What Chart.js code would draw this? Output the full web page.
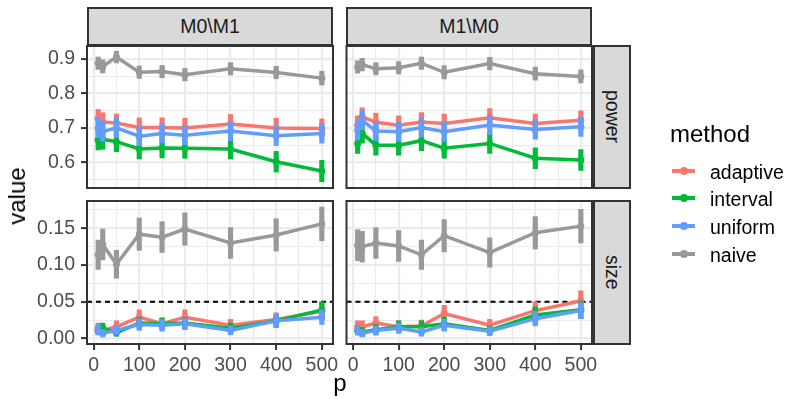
<!DOCTYPE html>
<html>
<head>
<meta charset="utf-8">
<script src="https://cdn.jsdelivr.net/npm/chart.js@4.4.1/dist/chart.umd.min.js"></script>
<style>
  body { margin: 0; background: #fff; font-family: "Liberation Sans", Arial, sans-serif; }
  #wrap { position: relative; width: 790px; height: 399px; overflow: hidden; }
  #wrap canvas { position: absolute; left: 0; top: 0; }
  .strip { position: absolute; box-sizing: border-box; background: #d9d9d9; border: 2px solid #333;
           display: flex; align-items: center; justify-content: center; color: #1a1a1a; font-size: 19.5px; line-height: 1; }
  .strip.side span { writing-mode: vertical-rl; }
  .title { position: absolute; font-size: 24px; color: #000; line-height: 1; white-space: nowrap; }
  .key { position: absolute; left: 672px; width: 23px; height: 4px; }
  .key i { position: absolute; left: 7.5px; top: -2px; width: 8px; height: 8px; border-radius: 50%; background: inherit; }
  .lab { position: absolute; left: 710px; font-size: 19.5px; line-height: 1; color: #000; }
</style>
</head>
<body>
<div id="wrap">
  <canvas id="tl" width="790" height="399"></canvas>
  <canvas id="tr" width="790" height="399"></canvas>
  <canvas id="bl" width="790" height="399"></canvas>
  <canvas id="br" width="790" height="399"></canvas>

  <div class="strip" style="left:87px;top:7px;width:246px;height:39px">M0\M1</div>
  <div class="strip" style="left:346px;top:7px;width:246px;height:39px">M1\M0</div>
  <div class="strip side" style="left:593px;top:45px;width:38px;height:144px"><span>power</span></div>
  <div class="strip side" style="left:593px;top:200px;width:38px;height:145px"><span>size</span></div>

  <div class="title" style="left:17px;top:196px;transform:translate(-50%,-50%) rotate(-90deg)">value</div>
  <div class="title" style="left:340px;top:371px;transform:translateX(-50%)">p</div>
  <div class="title" style="left:670px;top:122px">method</div>
  <div id="legend"></div>
</div>

<script>
// x values and tick labels
const p = [10, 20, 50, 100, 150, 200, 300, 400, 500];
const methods = ['adaptive', 'interval', 'uniform', 'naive'];
const xTicks = [0, 50, 100, 150, 200, 250, 300, 350, 400, 450, 500];
const xMajor = [0, 100, 200, 300, 400, 500];
const powerTicks = [0.55, 0.6, 0.65, 0.7, 0.75, 0.8, 0.85, 0.9];
const powerMajor = [0.6, 0.7, 0.8, 0.9];
const sizeTicks = [0, 0.025, 0.05, 0.075, 0.1, 0.125, 0.15, 0.175];
const sizeMajor = [0, 0.05, 0.1, 0.15];
const sizeRef = 0.05;

// power, M0\M1
const pow1Adaptive = [0.727, 0.717, 0.714, 0.701, 0.701, 0.700, 0.711, 0.700, 0.698];
const pow1Interval = [0.665, 0.667, 0.660, 0.639, 0.642, 0.641, 0.639, 0.602, 0.575];
const pow1Uniform  = [0.700, 0.689, 0.700, 0.676, 0.684, 0.679, 0.691, 0.677, 0.684];
const pow1Naive    = [0.887, 0.878, 0.905, 0.861, 0.863, 0.854, 0.871, 0.860, 0.844];
const pow1AdaptiveErr = [0.026, 0.027, 0.026, 0.028, 0.028, 0.028, 0.028, 0.028, 0.028];
const pow1IntervalErr = [0.029, 0.029, 0.029, 0.029, 0.029, 0.029, 0.029, 0.030, 0.031];
const pow1UniformErr  = [0.028, 0.028, 0.028, 0.028, 0.028, 0.028, 0.028, 0.028, 0.028];
const pow1NaiveErr    = [0.018, 0.019, 0.017, 0.018, 0.018, 0.018, 0.018, 0.018, 0.020];

// power, M1\M0
const pow2Adaptive = [0.708, 0.732, 0.716, 0.708, 0.717, 0.713, 0.729, 0.713, 0.722];
const pow2Interval = [0.655, 0.684, 0.650, 0.650, 0.663, 0.641, 0.655, 0.612, 0.607];
const pow2Uniform  = [0.693, 0.722, 0.691, 0.689, 0.701, 0.689, 0.708, 0.695, 0.703];
const pow2Naive    = [0.876, 0.883, 0.871, 0.874, 0.887, 0.861, 0.886, 0.857, 0.849];
const pow2AdaptiveErr = [0.027, 0.026, 0.027, 0.027, 0.027, 0.027, 0.027, 0.027, 0.027];
const pow2IntervalErr = [0.029, 0.028, 0.029, 0.029, 0.029, 0.029, 0.029, 0.030, 0.030];
const pow2UniformErr  = [0.028, 0.027, 0.028, 0.028, 0.028, 0.028, 0.028, 0.028, 0.028];
const pow2NaiveErr    = [0.018, 0.018, 0.018, 0.018, 0.018, 0.019, 0.018, 0.019, 0.019];

// size, M0\M1
const size1Adaptive = [0.014, 0.011, 0.016, 0.029, 0.020, 0.029, 0.018, 0.026, 0.037];
const size1Interval = [0.011, 0.014, 0.008, 0.021, 0.020, 0.021, 0.014, 0.024, 0.039];
const size1Uniform  = [0.012, 0.007, 0.011, 0.019, 0.018, 0.020, 0.011, 0.024, 0.029];
const size1Naive    = [0.114, 0.128, 0.101, 0.142, 0.138, 0.149, 0.130, 0.141, 0.156];
const size1AdaptiveErr = [0.007, 0.006, 0.008, 0.010, 0.008, 0.010, 0.008, 0.009, 0.011];
const size1IntervalErr = [0.006, 0.007, 0.005, 0.008, 0.008, 0.008, 0.007, 0.009, 0.011];
const size1UniformErr  = [0.007, 0.005, 0.006, 0.008, 0.008, 0.008, 0.006, 0.009, 0.010];
const size1NaiveErr    = [0.020, 0.021, 0.019, 0.022, 0.021, 0.022, 0.021, 0.022, 0.023];

// size, M1\M0
const size2Adaptive = [0.016, 0.016, 0.021, 0.016, 0.017, 0.034, 0.018, 0.038, 0.051];
const size2Interval = [0.011, 0.009, 0.012, 0.016, 0.016, 0.020, 0.011, 0.032, 0.039];
const size2Uniform  = [0.011, 0.007, 0.011, 0.014, 0.009, 0.018, 0.010, 0.027, 0.038];
const size2Naive    = [0.127, 0.125, 0.130, 0.126, 0.114, 0.140, 0.117, 0.144, 0.153];
const size2AdaptiveErr = [0.008, 0.008, 0.009, 0.008, 0.008, 0.011, 0.008, 0.012, 0.014];
const size2IntervalErr = [0.006, 0.006, 0.007, 0.008, 0.008, 0.009, 0.006, 0.011, 0.012];
const size2UniformErr  = [0.006, 0.005, 0.006, 0.007, 0.006, 0.008, 0.006, 0.010, 0.011];
const size2NaiveErr    = [0.021, 0.021, 0.021, 0.021, 0.020, 0.022, 0.020, 0.022, 0.023];

const colors = ['#F8766D', '#00BA38', '#619CFF', '#999999'];
const family = '"Liberation Sans", Arial, sans-serif';

function isMajor(v, list) { return list.some(m => Math.abs(m - v) < 1e-9); }

// panel frame + dashed reference line
const frame = {
  id: 'frame',
  beforeDatasetsDraw(chart, args, opts) {
    if (opts.ref == null) return;
    const ca = chart.chartArea, ctx = chart.ctx;
    const y = chart.scales.y.getPixelForValue(opts.ref);
    ctx.save();
    ctx.strokeStyle = '#000';
    ctx.lineWidth = 1.8;
    ctx.setLineDash([5, 4]);
    ctx.beginPath();
    ctx.moveTo(ca.left, y);
    ctx.lineTo(ca.right, y);
    ctx.stroke();
    ctx.restore();
  },
  afterDatasetsDraw(chart) {
    const ca = chart.chartArea, ctx = chart.ctx;
    ctx.save();
    ctx.strokeStyle = '#333';
    ctx.lineWidth = 2;
    ctx.strokeRect(ca.left, ca.top, ca.right - ca.left, ca.bottom - ca.top);
    ctx.restore();
  }
};

function axis(ticks, major, show, pad, fmt) {
  return {
    afterBuildTicks: s => { s.ticks = ticks.map(v => ({ value: v })); },
    grid: {
      color: '#EBEBEB',
      lineWidth: c => (c.tick && isMajor(c.tick.value, major)) ? 2.2 : 1.1,
      drawTicks: show,
      tickLength: 6,
      tickWidth: 2,
      tickColor: c => (c.tick && isMajor(c.tick.value, major)) ? '#333' : 'rgba(0,0,0,0)'
    },
    border: { display: false },
    ticks: {
      display: show, autoSkip: false, maxRotation: 0, padding: pad,
      color: '#4D4D4D', font: { size: 19.5, family: family },
      callback: v => isMajor(v, major) ? fmt(v) : ''
    }
  };
}

function drawPanel(id, area, yMin, yMax, yTicks, yMajor, yFmt, showY, showX, values, errors, ref) {
  const datasets = [];
  values.forEach((v, k) => {
    datasets.push({
      type: 'line', label: methods[k],
      data: p.map((x, i) => ({ x: x, y: v[i] })),
      borderColor: colors[k], backgroundColor: colors[k],
      borderWidth: 3.5, pointRadius: 3.5, pointBorderWidth: 0, tension: 0,
      order: 20 - k
    });
    datasets.push({
      type: 'bar', label: methods[k] + ' range',
      data: p.map((x, i) => ({ x: x, y: [v[i] - errors[k][i], v[i] + errors[k][i]] })),
      backgroundColor: colors[k], borderWidth: 0, barThickness: 4.5, grouped: false,
      order: 10 - k
    });
  });

  const xAxis = axis(xTicks, xMajor, showX, 4, v => String(v));
  Object.assign(xAxis, {
    type: 'linear', min: -14.5, max: 524.5, offset: false,
    afterFit: s => { s.height = showX ? 399 - area.b : 0; }
  });
  xAxis.grid.offset = false;

  const yAxis = axis(yTicks, yMajor, showY, 6, yFmt);
  Object.assign(yAxis, {
    type: 'linear', min: yMin, max: yMax,
    afterFit: s => { s.width = showY ? area.l : 0; }
  });

  new Chart(document.getElementById(id), {
    type: 'line',
    data: { datasets: datasets },
    options: {
      responsive: false, animation: false, events: [],
      layout: { padding: { left: showY ? 0 : area.l, top: area.t, right: 790 - area.r, bottom: showX ? 0 : 399 - area.b } },
      plugins: { legend: { display: false }, tooltip: { enabled: false }, frame: { ref: ref } },
      scales: { x: xAxis, y: yAxis }
    },
    plugins: [frame]
  });
}

const powFmt = v => v.toFixed(1);
const sizeFmt = v => v.toFixed(2);

drawPanel('tl', { l: 87, t: 46, r: 333, b: 188 }, 0.526, 0.937, powerTicks, powerMajor, powFmt, true, false,
  [pow1Adaptive, pow1Interval, pow1Uniform, pow1Naive],
  [pow1AdaptiveErr, pow1IntervalErr, pow1UniformErr, pow1NaiveErr], null);
drawPanel('tr', { l: 346.5, t: 46, r: 592, b: 188 }, 0.526, 0.937, powerTicks, powerMajor, powFmt, false, false,
  [pow2Adaptive, pow2Interval, pow2Uniform, pow2Naive],
  [pow2AdaptiveErr, pow2IntervalErr, pow2UniformErr, pow2NaiveErr], null);
drawPanel('bl', { l: 87, t: 201, r: 333, b: 344 }, -0.0075, 0.1872, sizeTicks, sizeMajor, sizeFmt, true, true,
  [size1Adaptive, size1Interval, size1Uniform, size1Naive],
  [size1AdaptiveErr, size1IntervalErr, size1UniformErr, size1NaiveErr], sizeRef);
drawPanel('br', { l: 346.5, t: 201, r: 592, b: 344 }, -0.0075, 0.1872, sizeTicks, sizeMajor, sizeFmt, false, true,
  [size2Adaptive, size2Interval, size2Uniform, size2Naive],
  [size2AdaptiveErr, size2IntervalErr, size2UniformErr, size2NaiveErr], sizeRef);

// legend
const legendRows = [170.7, 198.3, 226, 254];
const legend = document.getElementById('legend');
methods.forEach((m, k) => {
  const key = document.createElement('div');
  key.className = 'key';
  key.style.top = (legendRows[k] - 2) + 'px';
  key.style.background = colors[k];
  key.appendChild(document.createElement('i'));
  legend.appendChild(key);
  const lab = document.createElement('div');
  lab.className = 'lab';
  lab.style.top = (legendRows[k] - 8.2) + 'px';
  lab.textContent = m;
  legend.appendChild(lab);
});
</script>
</body>
</html>
